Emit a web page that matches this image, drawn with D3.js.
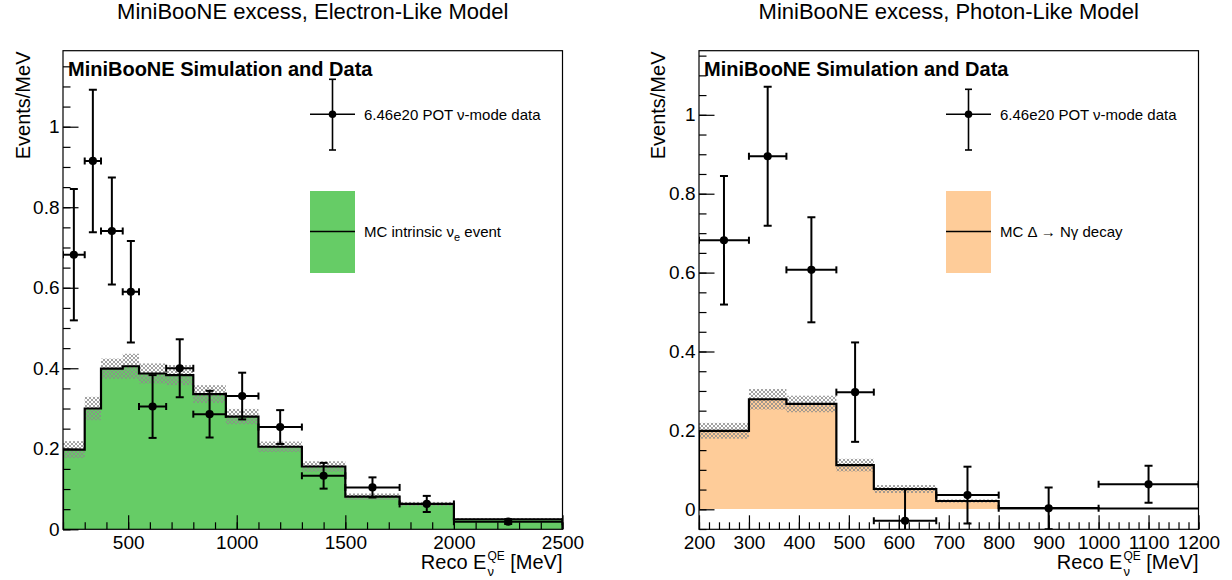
<!DOCTYPE html>
<html>
<head>
<meta charset="utf-8">
<script src="https://cdn.jsdelivr.net/npm/d3@7"></script>
<style>
  body { margin: 0; background: #fff; }
  text { font-family: "Liberation Sans", Arial, Helvetica, sans-serif; fill: #000; }
</style>
</head>
<body>
<script>
// ---- data ----
const titles = ["MiniBooNE excess, Electron-Like Model", "MiniBooNE excess, Photon-Like Model"];
const dataLabel = "6.46e20 POT ν-mode data";

// electron-like (left)
const eEdges = [200, 300, 375, 475, 550, 675, 800, 950, 1100, 1300, 1500, 1750, 2000, 2500];
const eMC = [0.198, 0.300, 0.399, 0.405, 0.387, 0.383, 0.336, 0.280, 0.205, 0.156, 0.081, 0.063, 0.025];
const eMCErr = [0.021, 0.029, 0.025, 0.031, 0.025, 0.025, 0.022, 0.019, 0.013, 0.013, 0.008, 0.005, 0.003];
const eData = [0.682, 0.915, 0.741, 0.590, 0.305, 0.400, 0.286, 0.331, 0.254, 0.133, 0.104, 0.063, 0.019];
const eDataErr = [0.163, 0.177, 0.133, 0.126, 0.078, 0.072, 0.058, 0.058, 0.042, 0.032, 0.025, 0.020, 0.006];
const eXMajor = [500, 1000, 1500, 2000, 2500];

// photon-like (right)
const gEdges = [200, 300, 375, 475, 550, 675, 800, 1000, 1200];
const gMC = [0.199, 0.279, 0.267, 0.112, 0.0515, 0.021, 0.003, 0.002];
const gMCErr = [0.020, 0.026, 0.021, 0.016, 0.010, 0.004, 0.002, 0.001];
const gData = [0.682, 0.895, 0.607, 0.297, -0.029, 0.036, 0.0025, 0.0634];
const gDataErr = [0.163, 0.176, 0.133, 0.126, 0.080, 0.072, 0.053, 0.047];
const gXMajor = [200, 300, 400, 500, 600, 700, 800, 900, 1000, 1100, 1200];

const yMajor = [0, 0.2, 0.4, 0.6, 0.8, 1];

const svg = d3.select("body").append("svg").attr("width", 1232).attr("height", 580);

const defs = svg.append("defs");
const pat = defs.append("pattern").attr("id", "hatch")
  .attr("patternUnits", "userSpaceOnUse").attr("width", 4).attr("height", 4);
pat.append("path").attr("d", "M0,0L4,4M0,4L4,0M-1,1L1,-1M3,5L5,3M-1,3L1,5M3,-1L5,1")
  .attr("stroke", "#8c8c8c").attr("stroke-width", 0.8);

function drawPanel(p) {
  const g = svg.append("g");
  const x = d3.scaleLinear(p.xDomain, [p.left, p.right]);
  const y = d3.scaleLinear(p.yDomain, [529.3, 50.7]);
  const clipId = "clip" + p.id;
  defs.append("clipPath").attr("id", clipId).append("rect")
    .attr("x", p.left).attr("y", 50.7).attr("width", p.right - p.left).attr("height", 529.3 - 50.7);
  const plot = g.append("g").attr("clip-path", `url(#${clipId})`);

  const bins = p.mc.map((v, i) => ({ x0: p.edges[i], x1: p.edges[i + 1], v, e: p.mcErr[i], d: p.data[i], de: p.dataErr[i] }));

  // MC fill
  plot.selectAll(".fill").data(bins).join("rect")
    .attr("x", (d) => x(d.x0)).attr("width", (d) => x(d.x1) - x(d.x0))
    .attr("y", (d) => y(d.v)).attr("height", (d) => y(0) - y(d.v))
    .attr("fill", p.color).attr("shape-rendering", "crispEdges");

  // systematic band
  plot.selectAll(".band").data(bins).join("rect")
    .attr("x", (d) => x(d.x0)).attr("width", (d) => x(d.x1) - x(d.x0))
    .attr("y", (d) => y(d.v + d.e)).attr("height", (d) => y(d.v - d.e) - y(d.v + d.e))
    .attr("fill", "url(#hatch)");

  // histogram outline
  const steps = [[p.edges[0], 0]];
  bins.forEach((b) => { steps.push([b.x0, b.v], [b.x1, b.v]); });
  steps.push([p.edges[p.edges.length - 1], 0]);
  plot.append("path")
    .attr("d", d3.line((d) => x(d[0]), (d) => y(d[1]))(steps))
    .attr("fill", "none").attr("stroke", "#000").attr("stroke-width", 2.2);

  // axes with inward ticks
  const fmtX = d3.format("d");
  const xMinor = d3.range(p.xDomain[0], p.xDomain[1] + 1, p.xMinorStep);
  g.append("g").attr("transform", `translate(0,529.3)`)
    .call(d3.axisBottom(x).tickValues(xMinor).tickSizeInner(-7).tickSizeOuter(0).tickFormat(""))
    .call((a) => a.select(".domain").remove());
  g.append("g").attr("transform", `translate(0,529.3)`)
    .call(d3.axisBottom(x).tickValues(p.xMajor).tickSizeInner(-14).tickSizeOuter(0).tickPadding(6.5).tickFormat(fmtX))
    .call((a) => a.select(".domain").remove());
  const yMinor = d3.range(Math.ceil(p.yDomain[0] / 0.05), Math.floor(p.yDomain[1] / 0.05) + 1).map((k) => k * 0.05);
  g.append("g").attr("transform", `translate(${p.left},0)`)
    .call(d3.axisLeft(y).tickValues(yMinor).tickSizeInner(-7.5).tickSizeOuter(0).tickFormat(""))
    .call((a) => a.select(".domain").remove());
  g.append("g").attr("transform", `translate(${p.left},0)`)
    .call(d3.axisLeft(y).tickValues(yMajor).tickSizeInner(-15.5).tickSizeOuter(0).tickPadding(3.5).tickFormat(d3.format("~g")))
    .call((a) => a.select(".domain").remove());
  g.selectAll(".tick line").attr("stroke", "#000").attr("stroke-width", 1.2);
  g.selectAll(".tick text").attr("font-size", 19).attr("font-family", "Liberation Sans, Arial, sans-serif").attr("fill", "#000");

  // data points
  const pts = plot.append("g").attr("stroke", "#000").attr("stroke-width", 2);
  bins.forEach((b) => {
    const cx = x((b.x0 + b.x1) / 2), cy = y(b.d);
    const yt = y(b.d + b.de), yb = y(b.d - b.de);
    pts.append("line").attr("x1", x(b.x0)).attr("x2", x(b.x1)).attr("y1", cy).attr("y2", cy);
    pts.append("line").attr("x1", cx).attr("x2", cx).attr("y1", yt).attr("y2", yb);
    pts.append("line").attr("x1", cx - 4).attr("x2", cx + 4).attr("y1", yt).attr("y2", yt);
    pts.append("line").attr("x1", cx - 4).attr("x2", cx + 4).attr("y1", yb).attr("y2", yb);
    pts.append("line").attr("x1", x(b.x0)).attr("x2", x(b.x0)).attr("y1", cy - 3.5).attr("y2", cy + 3.5);
    pts.append("line").attr("x1", x(b.x1)).attr("x2", x(b.x1)).attr("y1", cy - 3.5).attr("y2", cy + 3.5);
    pts.append("circle").attr("cx", cx).attr("cy", cy).attr("r", 4.1).attr("fill", "#000").attr("stroke", "none");
  });

  // frame
  g.append("rect").attr("x", p.left).attr("y", 50.7).attr("width", p.right - p.left).attr("height", 529.3 - 50.7)
    .attr("fill", "none").attr("stroke", "#000").attr("stroke-width", 1.2);

  // texts
  g.append("text").attr("x", (p.left + p.right) / 2).attr("y", 19).attr("text-anchor", "middle")
    .attr("font-size", 22).text(p.title);
  g.append("text").attr("x", p.left + 5).attr("y", 75.5).attr("font-size", 20).attr("font-weight", "bold")
    .text("MiniBooNE Simulation and Data");
  g.append("text").attr("transform", `translate(${p.ylabX},51.5) rotate(-90)`).attr("text-anchor", "end")
    .attr("font-size", 20).text("Events/MeV");

  // x label: Reco E_nu^QE [MeV]
  const lab = g.append("g");
  const t1 = lab.append("text").attr("font-size", 20).text("Reco E");
  const w1 = t1.node().getComputedTextLength();
  const sup = lab.append("text").attr("font-size", 12).attr("x", w1 + 1).attr("y", -9).text("QE");
  const sub = lab.append("text").attr("font-size", 13).attr("x", w1 + 1).attr("y", 7).text("ν");
  const w2 = Math.max(sup.node().getComputedTextLength(), sub.node().getComputedTextLength());
  const t2 = lab.append("text").attr("font-size", 20).attr("x", w1 + w2 + 6.5).text("[MeV]");
  const tot = w1 + w2 + 6.5 + t2.node().getComputedTextLength();
  lab.attr("transform", `translate(${p.right - tot},${p.xlabY})`);

  // legend
  const lx = p.legX;
  const lg = g.append("g").attr("stroke", "#000");
  lg.append("line").attr("x1", lx).attr("x2", lx + 45).attr("y1", 114.3).attr("y2", 114.3).attr("stroke-width", 1.6);
  lg.append("line").attr("x1", lx + 22.5).attr("x2", lx + 22.5).attr("y1", p.legErrTop).attr("y2", 150).attr("stroke-width", 1.6);
  lg.append("line").attr("x1", lx + 19).attr("x2", lx + 26).attr("y1", p.legErrTop).attr("y2", p.legErrTop).attr("stroke-width", 1.6);
  lg.append("line").attr("x1", lx + 19).attr("x2", lx + 26).attr("y1", 150).attr("y2", 150).attr("stroke-width", 1.6);
  lg.append("circle").attr("cx", lx + 22.5).attr("cy", 114.3).attr("r", 3.8).attr("fill", "#000").attr("stroke", "none");
  lg.append("rect").attr("x", lx).attr("y", 191).attr("width", 45).attr("height", 82).attr("fill", p.color).attr("stroke", "none");
  lg.append("line").attr("x1", lx).attr("x2", lx + 45).attr("y1", 231.5).attr("y2", 231.5).attr("stroke-width", 1.6);
  g.append("text").attr("x", lx + 54).attr("y", 120).attr("font-size", 15).text(dataLabel);
  const mt = g.append("text").attr("x", lx + 54).attr("y", 237).attr("font-size", 15).style("white-space", "pre");
  p.mcLabel(mt);
}

drawPanel({
  id: "e", left: 63, right: 562.5, xDomain: [200, 2500], yDomain: [0, 1.1888],
  xMajor: eXMajor, xMinorStep: 100, edges: eEdges, mc: eMC, mcErr: eMCErr, data: eData, dataErr: eDataErr,
  color: "#66cc66", title: titles[0], ylabX: 29.5, xlabY: 569, legX: 310, legErrTop: 79.3,
  mcLabel: (t) => {
    t.append("tspan").text("MC intrinsic ν");
    t.append("tspan").attr("font-size", 11).attr("dy", 4).text("e");
    t.append("tspan").attr("dy", -4).text(" event");
  },
});

drawPanel({
  id: "g", left: 699, right: 1198.5, xDomain: [200, 1200], yDomain: [-0.0507, 1.1625],
  xMajor: gXMajor, xMinorStep: 20, edges: gEdges, mc: gMC, mcErr: gMCErr, data: gData, dataErr: gDataErr,
  color: "#fecc99", title: titles[1], ylabX: 665, xlabY: 569, legX: 946, legErrTop: 89.3,
  mcLabel: (t) => { t.text("MC Δ → Nγ decay"); },
});
</script>
</body>
</html>
